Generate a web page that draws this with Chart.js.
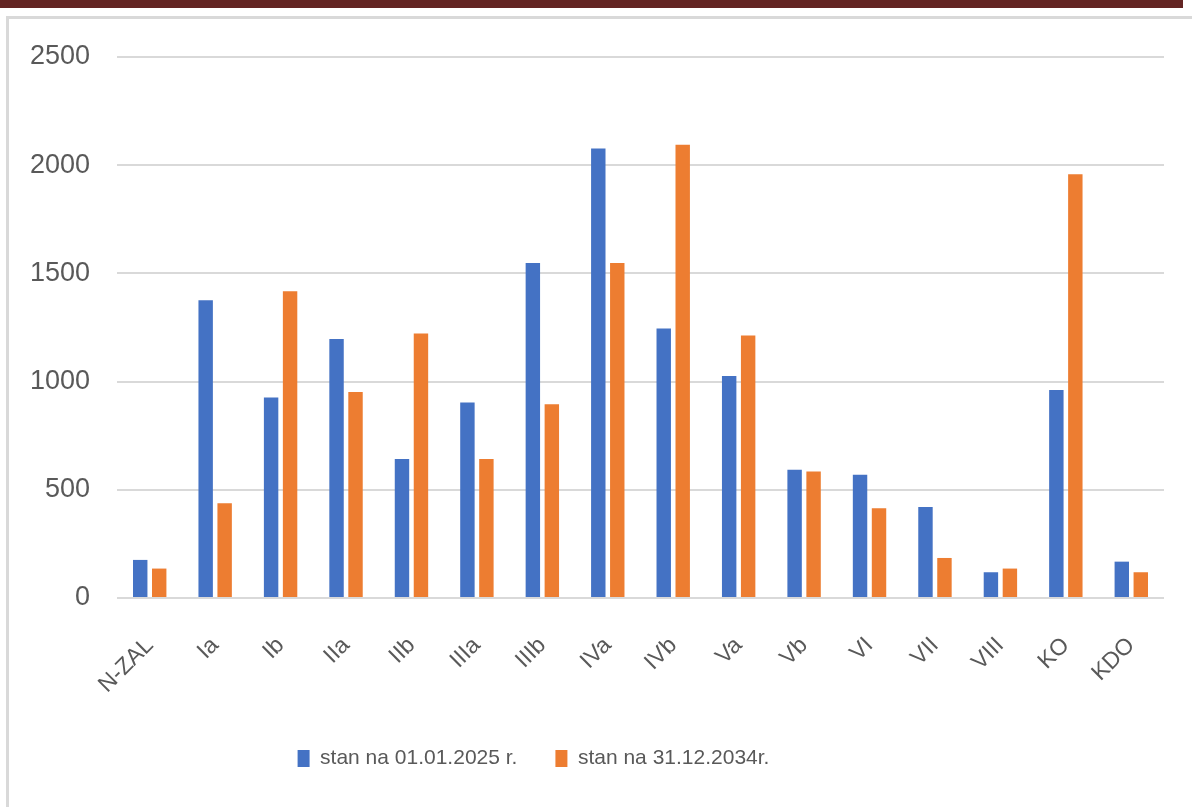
<!DOCTYPE html>
<html>
<head>
<meta charset="utf-8">
<script src="https://cdn.jsdelivr.net/npm/chart.js@4.4.1/dist/chart.umd.min.js"></script>
<style>
    body { margin: 0; background: #fff; overflow: hidden; }
    .top-bar { position: absolute; left: 0; top: 0; width: 1183px; height: 8px; background: #632523; }
    .frame-top { position: absolute; left: 6px; top: 16px; width: 1186px; height: 3px; background: #d9d9d9; }
    .frame-left { position: absolute; left: 6px; top: 16px; width: 3px; height: 791px; background: #d9d9d9; }
    #chart-item { position: absolute; left: 0; top: 0; }
</style>
</head>
<body>
<div class="top-bar"></div>
<div class="frame-top"></div>
<div class="frame-left"></div>
<canvas id="chart-item" width="1192" height="807"></canvas>

<script>
// Data
var categories = ['N-ZAL', 'Ia', 'Ib', 'IIa', 'IIb', 'IIIa', 'IIIb', 'IVa', 'IVb', 'Va', 'Vb', 'VI', 'VII', 'VIII', 'KO', 'KDO']
var stan2025 = [176, 1376, 927, 1197, 642, 903, 1548, 2077, 1245, 1026, 593, 569, 421, 119, 961, 168]
var stan2034 = [136, 438, 1417, 952, 1222, 642, 895, 1548, 2095, 1213, 585, 415, 185, 136, 1958, 119]
var yTicks = [0, 500, 1000, 1500, 2000, 2500]

var labelColor = '#595959'
var gridColor = '#d9d9d9'

// move legend so it is centered where the original one sits
var legendShift = {
    id: 'legendShift',
    afterLayout: function (chart) {
        chart.legend.left = 0
        chart.legend.right = 1067
    }
}

const ctx = document.getElementById('chart-item').getContext('2d');
const myChart = new Chart(ctx, {
    type: 'bar',
    data: {
        labels: categories,
        datasets: [{
            label: 'stan na 01.01.2025 r.',
            data: stan2025,
            backgroundColor: '#4472c4',
            categoryPercentage: 0.58,
            barPercentage: 0.76
        }, {
            label: 'stan na 31.12.2034r.',
            data: stan2034,
            backgroundColor: '#ed7d31',
            categoryPercentage: 0.58,
            barPercentage: 0.76
        }]
    },
    plugins: [legendShift],
    options: {
        responsive: false,
        animation: false,
        layout: {
            padding: { top: 57, right: 28, bottom: 28, left: 0 }
        },
        plugins: {
            tooltip: { enabled: false },
            legend: {
                position: 'bottom',
                labels: {
                    boxWidth: 12,
                    boxHeight: 17,
                    padding: 38,
                    color: labelColor,
                    font: { family: 'Liberation Sans', size: 21 }
                }
            }
        },
        scales: {
            x: {
                grid: { display: false },
                border: { display: false },
                ticks: {
                    autoSkip: false,
                    minRotation: 45,
                    maxRotation: 45,
                    padding: 26,
                    color: labelColor,
                    font: { family: 'Liberation Sans', size: 23 }
                },
                afterFit: function (scale) { scale.height = 112 }
            },
            y: {
                min: 0,
                max: 2500,
                afterBuildTicks: function (scale) {
                    scale.ticks = yTicks.map(function (v) { return { value: v } })
                },
                grid: { color: gridColor, lineWidth: 2, drawTicks: false },
                border: { display: false },
                ticks: {
                    padding: 27,
                    color: labelColor,
                    font: { family: 'Liberation Sans', size: 27 },
                    callback: function (value) { return String(value) }
                },
                afterFit: function (scale) { scale.width = 117 }
            }
        }
    }
});
</script>
</body>
</html>
